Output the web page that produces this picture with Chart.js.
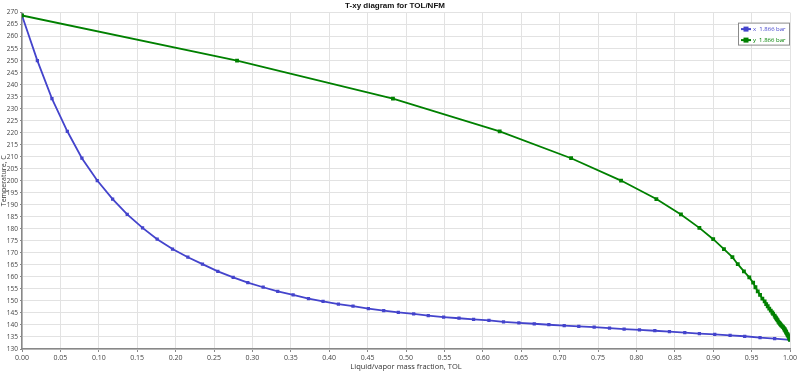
<!DOCTYPE html>
<html>
<head>
<meta charset="utf-8">
<script src="https://cdn.jsdelivr.net/npm/chart.js@4.4.1/dist/chart.umd.min.js"></script>
<style>
  html, body { margin: 0; padding: 0; background: #fff; }
  #wrap { width: 800px; height: 371px; position: relative; }
</style>
</head>
<body>
<div id="wrap"><canvas id="c" width="800" height="371"></canvas></div>
<script>
const chartTitle = "T-xy diagram for TOL/NFM";
const xAxisTitle = "Liquid/vapor mass fraction, TOL";
const yAxisTitle = "Temperature, C";
const seriesLabels = ["x  1.866 bar", "y  1.866 bar"];

// Temperature (C) at each computed point
const temperature = [268.8, 250.0, 234.2, 220.6, 209.4, 200.1, 192.4, 186.0, 180.4, 175.7,
  171.6, 168.2, 165.3, 162.3, 159.8, 157.6, 155.7, 154.0, 152.5, 151.0,
  149.8, 148.7, 147.8, 146.8, 146.0, 145.2, 144.6, 143.9, 143.3, 142.8,
  142.3, 141.9, 141.3, 140.9, 140.5, 140.1, 139.7, 139.4, 139.1, 138.7,
  138.3, 138.0, 137.6, 137.2, 136.8, 136.4, 136.1, 135.7, 135.3, 134.7,
  134.3, 133.8];

// Liquid mass fraction of TOL (x)
const liquidFraction = [0.000, 0.020, 0.039, 0.059, 0.078, 0.098, 0.118, 0.137, 0.157, 0.176,
  0.196, 0.216, 0.235, 0.255, 0.275, 0.294, 0.314, 0.333, 0.353, 0.373,
  0.392, 0.412, 0.431, 0.451, 0.471, 0.490, 0.510, 0.529, 0.549, 0.569,
  0.588, 0.608, 0.627, 0.647, 0.667, 0.686, 0.706, 0.725, 0.745, 0.765,
  0.784, 0.804, 0.824, 0.843, 0.863, 0.882, 0.902, 0.922, 0.941, 0.961,
  0.980, 1.000];

// Vapor mass fraction of TOL (y)
const vaporFraction = [0.000, 0.280, 0.483, 0.622, 0.715, 0.780, 0.826, 0.858, 0.882, 0.900,
  0.914, 0.925, 0.932, 0.940, 0.947, 0.952, 0.955, 0.958, 0.961, 0.964,
  0.967, 0.969, 0.971, 0.973, 0.975, 0.977, 0.978, 0.980, 0.981, 0.982,
  0.983, 0.984, 0.985, 0.986, 0.987, 0.988, 0.989, 0.990, 0.991, 0.992,
  0.993, 0.993, 0.994, 0.995, 0.995, 0.996, 0.997, 0.997, 0.998, 0.999,
  0.999, 1.000];

const blue = "#4444cc";
const green = "#008000";
const fontFam = "'Liberation Sans Narrow', 'Open Sans', 'DejaVu Sans', sans-serif";
const titleFam = "'Liberation Sans', 'Open Sans', sans-serif";

const legendPlugin = {
  id: 'boxLegend',
  afterDatasetsDraw(chart) {
    const ctx = chart.ctx;
    const area = chart.chartArea;
    const w = 51, h = 22;
    const x0 = area.right - w - 1, y0 = area.top + 10;
    ctx.save();
    ctx.fillStyle = '#ffffff';
    ctx.fillRect(x0, y0, w, h);
    ctx.strokeStyle = '#8a8a8a';
    ctx.lineWidth = 1;
    ctx.strokeRect(x0 + 0.5, y0 + 0.5, w, h);
    chart.data.datasets.forEach((ds, i) => {
      const cy = y0 + 6.5 + i * 11;
      ctx.strokeStyle = ds.borderColor;
      ctx.lineWidth = 2;
      ctx.beginPath();
      ctx.moveTo(x0 + 3, cy);
      ctx.lineTo(x0 + 13, cy);
      ctx.stroke();
      ctx.fillStyle = ds.borderColor;
      ctx.fillRect(x0 + 5.5, cy - 2.5, 5, 5);
      ctx.font = "6px " + fontFam;
      ctx.textBaseline = 'middle';
      ctx.textAlign = 'left';
      ctx.fillText(ds.label, x0 + 15, cy);
    });
    ctx.restore();
  }
};

new Chart(document.getElementById('c'), {
  type: 'line',
  data: {
    datasets: [
      {
        label: seriesLabels[0],
        data: liquidFraction.map((v, i) => ({ x: v, y: temperature[i] })),
        borderColor: blue,
        backgroundColor: blue,
        borderWidth: 1.8,
        pointStyle: 'rect',
        pointRadius: 2.3,
        pointBorderWidth: 0,
        tension: 0,
        order: 1
      },
      {
        label: seriesLabels[1],
        data: vaporFraction.map((v, i) => ({ x: v, y: temperature[i] })),
        borderColor: green,
        backgroundColor: green,
        borderWidth: 1.8,
        pointStyle: 'rect',
        pointRadius: 2.7,
        pointBorderWidth: 0,
        tension: 0,
        order: 0
      }
    ]
  },
  options: {
    responsive: false,
    animation: false,
    layout: { padding: { top: 1, right: 10, left: 0, bottom: 0 } },
    plugins: {
      legend: { display: false },
      tooltip: { enabled: false },
      title: {
        display: true,
        text: chartTitle,
        color: '#111',
        font: { family: titleFam, size: 8, weight: 'bold' },
        padding: { top: 0, bottom: 2 },
        position: 'top',
        fullSize: true
      }
    },
    scales: {
      x: {
        type: 'linear',
        min: 0, max: 1,
        ticks: {
          stepSize: 0.05,
          color: '#444',
          font: { family: fontFam, size: 7 },
          padding: 2,
          maxRotation: 0,
          autoSkip: false,
          callback: v => v.toFixed(2)
        },
        grid: { color: '#e2e2e2', lineWidth: 1, drawTicks: true, tickLength: 3, tickColor: '#888' },
        border: { color: '#888', width: 1.5 },
        title: {
          display: true,
          text: xAxisTitle,
          color: '#333',
          font: { family: fontFam, size: 7.5 },
          padding: { top: 0, bottom: 0 }
        },
        afterFit: s => { s.height = 22; }
      },
      y: {
        type: 'linear',
        min: 130, max: 270,
        ticks: {
          stepSize: 5,
          color: '#444',
          font: { family: fontFam, size: 6.5 },
          padding: 2,
          autoSkip: false
        },
        grid: { color: '#e2e2e2', lineWidth: 1, drawTicks: true, tickLength: 2, tickColor: '#888' },
        border: { color: '#888', width: 1.5 },
        title: {
          display: true,
          text: yAxisTitle,
          color: '#333',
          font: { family: fontFam, size: 7 },
          padding: { top: 0, bottom: 0 }
        },
        afterFit: s => { s.width = 22; }
      }
    }
  },
  plugins: [legendPlugin]
});
</script>
</body>
</html>
